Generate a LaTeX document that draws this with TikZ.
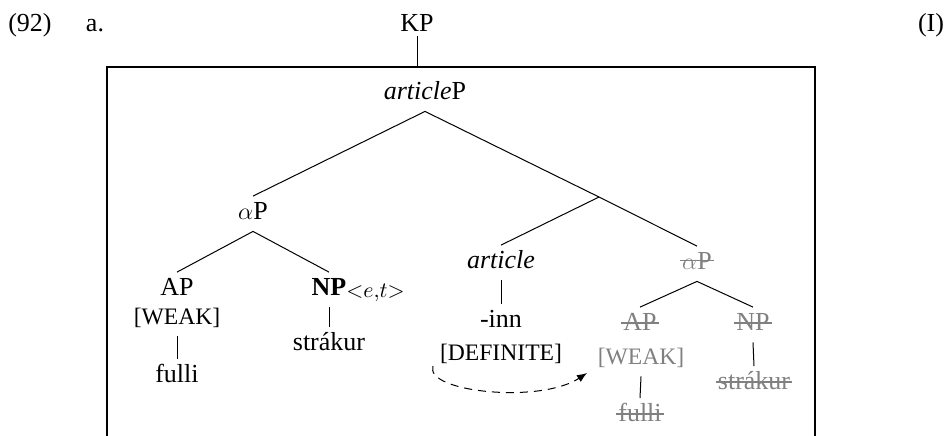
\documentclass[tikz,border=0pt]{standalone}
\usepackage{fontspec}
\setmainfont{Liberation Serif}
\usepackage{xcolor}
\usepackage{tikz}
\usetikzlibrary{arrows.meta,positioning}

\newsavebox{\gonebox}
\newcommand{\feat}[1]{{\fontsize{11.8}{14}\selectfont[#1]}}
\newcommand{\gone}[2][0.25em]{\sbox{\gonebox}{#2}\usebox{\gonebox}\llap{\makebox[\wd\gonebox]{\raisebox{#1}{\rule{\dimexpr\wd\gonebox+2pt\relax}{0.6pt}}}}}
\newcommand{\semtype}{\rlap{\raisebox{-1pt}{\fontsize{10.9}{12}\selectfont$\textstyle{<}e{,}t{>}$}}}

\begin{document}
\begin{tikzpicture}[x=0.5pt, y=-0.5pt,
    every node/.style={font=\fontsize{13}{15.6}\selectfont, anchor=base,
        inner sep=2.5pt, text height=8.75pt, text depth=3.5pt},
    trace/.style={text=black!50},
    branch/.style={line width=0.5pt}]
    \useasboundingbox (0,0) rectangle (947,435);

    % example number and tag
    \node (exnum) at (30,31) {(92)};
    \node (exsub) at (95,31) {a.};
    \node (tag) at (931,31) {(I)};

    % frame round the article phrase
    \draw[line width=1.3pt] (107,440) |- (815,67) -- (815,440);
    \node (kp) [text depth=0pt, inner ysep=2.5pt] at (417,31) {KP};
    \coordinate (boxtop) at (417,67);
    \draw[branch] (kp.south) -- (boxtop);

    % upper part of the tree
    \node (artP) at (425,99) {\textit{article}P};
    \node (aP) at (253,219) {$\alpha$P};
    \coordinate (bar) at (599,197);
    \node (art) at (501,268) {\textit{article}};
    \node (gaP) [trace] at (697,269) {\gone[0.3em]{$\alpha$P}};

    % moved alpha phrase
    \node (ap) at (177,295) {AP};
    \node (apf) at (177,324) {\feat{WEAK}};
    \node (fulli) at (177,382) {fulli};
    \node (np) at (329,295) {\textbf{NP}\semtype};
    \node (strak) at (329,350) {strákur};

    % article head
    \node (inn) at (501,327) {-inn};
    \node (def) at (501,360) {\feat{DEFINITE}};

    % copy left behind
    \node (gap) [trace] at (640,330) {\gone{AP}};
    \node (gapf) [trace] at (641,364) {\feat{WEAK}};
    \node (gfulli) [trace] at (640,421) {\gone{fulli}};
    \node (gnp) [trace] at (753,330) {\gone{NP}};
    \node (gstrak) [trace] at (754,389) {\gone{strákur}};

    \draw[branch] (aP.north) -- (artP.south) -- (bar) -- (gaP.north);
    \draw[branch] (bar) -- (art.north);
    \draw[branch] (ap.north) -- (aP.south) -- (np.north);
    \draw[branch] (apf.south) -- (fulli.north);
    \draw[branch] (np.south) -- (strak.north);
    \draw[branch] (art.south) -- (inn.north);
    \draw[branch] (gap.north) -- (gaP.south) -- (gnp.north);
    \draw[branch] (gapf.south) -- (gfulli.north);
    \draw[branch] (gnp.south) -- (gstrak.north);

    % agreement arrow
    \coordinate (agrfrom) at (433,366);
    \coordinate (agrto) at (587,373);
    \draw[branch, dash pattern=on 4pt off 3pt, -{Latex[length=5pt,width=4pt]}]
        (agrfrom) .. controls (424,392) and (540,404) .. (agrto);
\end{tikzpicture}
\end{document}
